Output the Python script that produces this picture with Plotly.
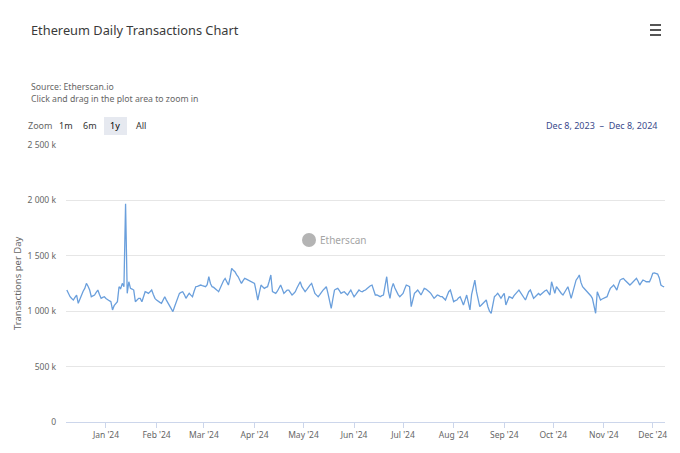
import pandas as pd
import plotly.graph_objects as go

START_DATE = "2023-12-08"

# Daily transactions (thousands), Dec 8 2023 .. Dec 8 2024
tx_dec_feb = [
    1191, 1160, 1131, 1115, 1101, 1125, 1146, 1071, 1110, 1146,
    1180, 1206, 1251, 1225, 1191, 1131, 1140, 1146, 1170, 1191,
    1150, 1116, 1125, 1131, 1115, 1101, 1095, 1086, 1011, 1050,
    1070, 1086, 1221, 1205, 1251, 1221, 1970, 1161, 1266, 1206,
    1200, 1191, 1086, 1100, 1116, 1116, 1086, 1130, 1176, 1170,
    1161, 1175, 1191, 1150, 1116, 1100, 1086, 1080, 1071, 1100,
    1131, 1100, 1071, 1040, 1020, 996, 1040, 1086, 1120, 1161,
    1170, 1176, 1150, 1116, 1140, 1161, 1145, 1131, 1180, 1221,
    1225, 1230, 1236, 1230, 1225, 1221, 1240, 1311, 1250, 1221,
]
tx_mar_may = [
    1215, 1206, 1190, 1176, 1215, 1251, 1275, 1296, 1265, 1236,
    1300, 1387, 1370, 1357, 1330, 1311, 1280, 1251, 1275, 1296,
    1290, 1281, 1270, 1266, 1258, 1251, 1180, 1101, 1170, 1236,
    1220, 1206, 1215, 1221, 1270, 1327, 1176, 1170, 1161, 1180,
    1206, 1236, 1200, 1161, 1175, 1191, 1191, 1170, 1146, 1160,
    1176, 1210, 1240, 1266, 1221, 1200, 1176, 1195, 1221, 1236,
    1251, 1210, 1161, 1145, 1131, 1150, 1176, 1190, 1205, 1221,
    1160, 1080, 1026, 1110, 1191, 1200, 1206, 1185, 1161, 1170,
    1176, 1160, 1146, 1170, 1191, 1160, 1131, 1150, 1176, 1191,
]
tx_jun_aug = [
    1180, 1176, 1185, 1191, 1205, 1221, 1230, 1236, 1190, 1146,
    1146, 1140, 1131, 1140, 1146, 1230, 1311, 1180, 1116, 1206,
    1251, 1210, 1176, 1150, 1131, 1145, 1161, 1200, 1236, 1230,
    1221, 1041, 1110, 1161, 1175, 1191, 1170, 1146, 1175, 1206,
    1200, 1191, 1175, 1161, 1140, 1116, 1130, 1146, 1140, 1131,
    1131, 1115, 1101, 1140, 1176, 1191, 1140, 1086, 1095, 1101,
    1120, 1131, 1095, 1056, 1100, 1146, 1080, 1011, 1150, 1230,
    1281, 1176, 1100, 1041, 1056, 1071, 1085, 1101, 1040, 1000,
    981, 1060, 1131, 1145, 1161, 1140, 1116, 1140, 1161, 1056,
]
tx_sep_dec = [
    1100, 1131, 1125, 1116, 1140, 1161, 1175, 1191, 1170, 1146,
    1120, 1101, 1140, 1176, 1191, 1150, 1116, 1130, 1146, 1160,
    1146, 1160, 1176, 1185, 1191, 1170, 1146, 1266, 1200, 1161,
    1221, 1200, 1176, 1160, 1146, 1175, 1206, 1221, 1170, 1116,
    1170, 1236, 1280, 1300, 1327, 1260, 1221, 1205, 1191, 1175,
    1161, 1140, 1116, 1050, 981, 1176, 1140, 1101, 1110, 1116,
    1125, 1131, 1170, 1206, 1220, 1236, 1215, 1191, 1240, 1281,
    1290, 1296, 1280, 1266, 1250, 1236, 1250, 1266, 1280, 1296,
    1270, 1236, 1260, 1281, 1275, 1266, 1266, 1266, 1300, 1342,
    1345, 1342, 1335, 1300, 1236, 1225, 1220,
]

y_vals = [0, 500, 1000, 1500, 2000, 2500]
y_text = ["0", "500 k", "1 000 k", "1 500 k", "2 000 k", "2 500 k"]
month_ticks = ["2024-01-01", "2024-02-01", "2024-03-01", "2024-04-01", "2024-05-01", "2024-06-01",
               "2024-07-01", "2024-08-01", "2024-09-01", "2024-10-01", "2024-11-01", "2024-12-01"]
month_text = ["Jan '24", "Feb '24", "Mar '24", "Apr '24", "May '24", "Jun '24",
              "Jul '24", "Aug '24", "Sep '24", "Oct '24", "Nov '24", "Dec '24"]

values = tx_dec_feb + tx_mar_may + tx_jun_aug + tx_sep_dec
dates = pd.date_range(START_DATE, periods=len(values), freq="D")

W, H = 680, 453
L, R, T, B = 66, 15, 145, 31
PW, PH = W - L - R, H - T - B


def px(x):
    return (x - L) / PW


def py(y):
    return (H - B - y) / PH


FONT = "Noto Sans, DejaVu Sans, sans-serif"

fig = go.Figure()
fig.add_trace(go.Scatter(
    x=dates, y=values, mode="lines",
    line=dict(color="#6a9fdc", width=1.3),
    hoverinfo="x+y", showlegend=False,
))

ann = []
ann.append(dict(x=px(29), y=py(30), xref="paper", yref="paper", xanchor="left", yanchor="middle",
                text="Ethereum Daily Transactions Chart", showarrow=False,
                font=dict(family=FONT, size=12.8, color="#3a3a3a")))
ann.append(dict(x=px(29), y=py(87), xref="paper", yref="paper", xanchor="left", yanchor="middle",
                text="Source: Etherscan.io", showarrow=False,
                font=dict(family=FONT, size=8.7, color="#666666")))
ann.append(dict(x=px(29), y=py(99), xref="paper", yref="paper", xanchor="left", yanchor="middle",
                text="Click and drag in the plot area to zoom in", showarrow=False,
                font=dict(family=FONT, size=8.7, color="#666666")))
for label, xc, col in [("Zoom", 40, "#666666"), ("1m", 66, "#333333"), ("6m", 90, "#333333"),
                       ("1y", 115, "#000000"), ("All", 141, "#333333")]:
    ann.append(dict(x=px(xc), y=py(126), xref="paper", yref="paper", xanchor="center", yanchor="middle",
                    text=label, showarrow=False,
                    font=dict(family=FONT, size=9, color=col)))
ann.append(dict(x=px(659), y=py(125), xref="paper", yref="paper", xanchor="right", yanchor="middle",
                text="Dec 8, 2023  \u2013  Dec 8, 2024", showarrow=False,
                font=dict(family=FONT, size=9, color="#3a4a8c")))
ann.append(dict(x=px(17), y=py(283), xref="paper", yref="paper",
                xanchor="center", yanchor="middle", textangle=-90,
                text="Transactions per Day", showarrow=False,
                font=dict(family=FONT, size=9.5, color="#666666")))
ann.append(dict(x=px(318), y=py(240), xref="paper", yref="paper", xanchor="left", yanchor="middle",
                text="Etherscan", showarrow=False,
                font=dict(family=FONT, size=10, color="#a5a5a5")))

shapes = []
# selected 1y button background
shapes.append(dict(type="rect", xref="paper", yref="paper", x0=px(104), x1=px(127), y0=py(117), y1=py(135),
                   fillcolor="#e6e9f0", line=dict(width=0), layer="below"))
# hamburger menu
for yy in [25, 30, 35]:
    shapes.append(dict(type="line", xref="paper", yref="paper", x0=px(650), x1=px(661), y0=py(yy), y1=py(yy),
                       line=dict(color="#555555", width=2)))
# watermark logo circle
shapes.append(dict(type="circle", xref="paper", yref="paper", x0=px(302), x1=px(316), y0=py(233), y1=py(247),
                   fillcolor="#b4b4b4", line=dict(width=0)))

fig.update_layout(
    width=W, height=H,
    margin=dict(l=L, r=R, t=T, b=B),
    paper_bgcolor="white", plot_bgcolor="white",
    annotations=ann, shapes=shapes,
    font=dict(family=FONT, color="#666666"),
    xaxis=dict(
        range=[dates[0] - pd.Timedelta(hours=12), dates[-1] + pd.Timedelta(hours=12)],
        tickvals=month_ticks, ticktext=month_text,
        tickfont=dict(size=8.5, color="#666666"),
        showgrid=False, showline=True, linecolor="#ccd6eb", linewidth=1,
        ticks="outside", ticklen=5, tickcolor="#ccd6eb", zeroline=False, fixedrange=True,
    ),
    yaxis=dict(
        range=[0, 2500],
        tickvals=y_vals, ticktext=y_text,
        tickfont=dict(size=8.5, color="#666666"),
        showgrid=True, gridcolor="#e6e6e6", gridwidth=1,
        showline=False, zeroline=False, ticks="", ticklabelstandoff=9, fixedrange=True,
    ),
)

fig.write_html("out.html", config={"displayModeBar": False})
